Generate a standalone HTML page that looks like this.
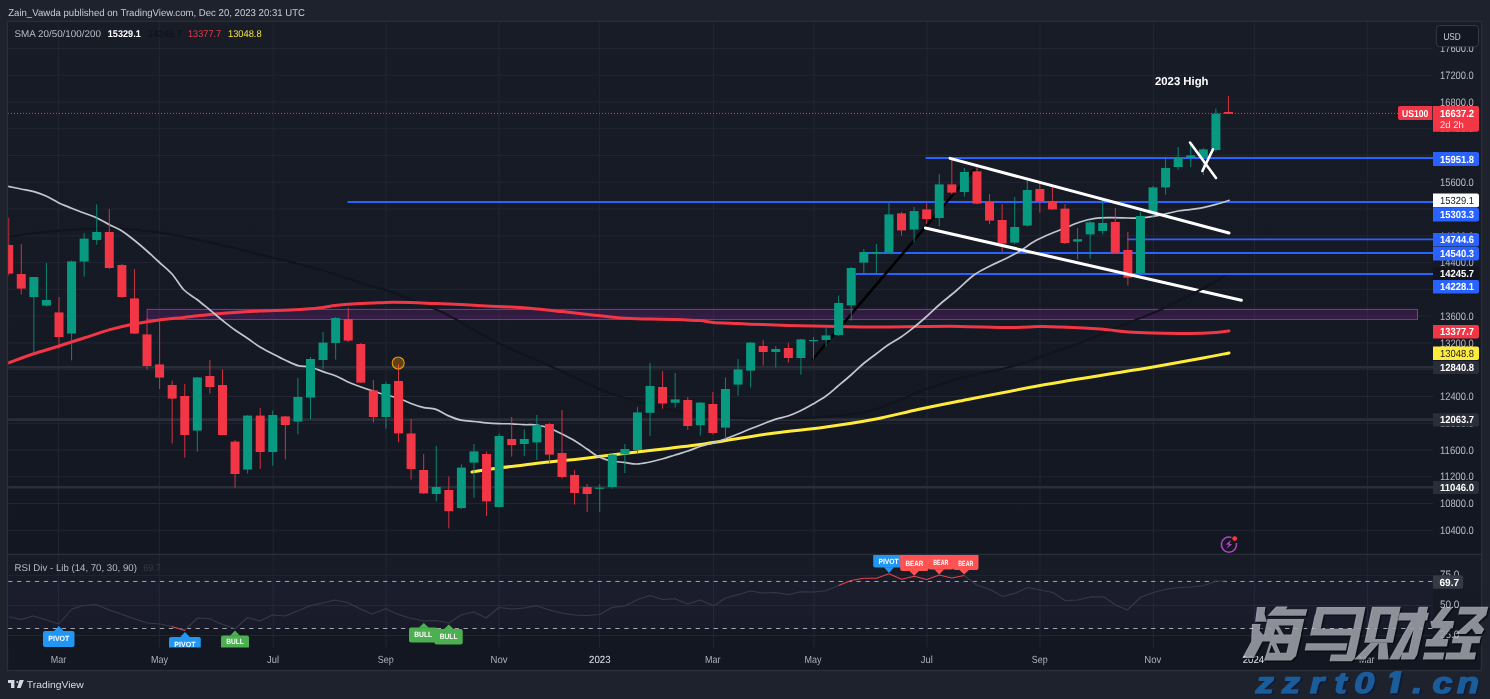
<!DOCTYPE html>
<html><head><meta charset="utf-8"><title>US100 chart</title>
<style>html,body{margin:0;padding:0;background:#1e222d;overflow:hidden}body{width:1490px;height:699px;font-family:"Liberation Sans",sans-serif}svg{will-change:transform;transform:translateZ(0)}svg text{white-space:pre;-webkit-font-smoothing:antialiased}</style></head>
<body>
<svg width="1490" height="699" viewBox="0 0 1490 699" style="display:block" font-family="'Liberation Sans', sans-serif" text-rendering="geometricPrecision">
<rect width="1490" height="699" fill="#1e222d"/>
<defs><linearGradient id="bg" x1="0" y1="0" x2="0" y2="1"><stop offset="0" stop-color="#181c27"/><stop offset="1" stop-color="#131722"/></linearGradient></defs>
<rect x="7.5" y="21.5" width="1474" height="649" fill="#131722" stroke="#2a2e39" stroke-width="1.4"/>
<rect x="8.2" y="22.2" width="1472.6" height="532" fill="url(#bg)"/>
<rect x="8.2" y="555" width="1472.6" height="92.5" fill="url(#bg)"/>
<defs><clipPath id="cp"><rect x="8.2" y="22.2" width="1424.8" height="532"/></clipPath><clipPath id="cr"><rect x="8.2" y="555" width="1424.8" height="92.5"/></clipPath></defs>
<line x1="58.4" y1="22" x2="58.4" y2="647.5" stroke="#222634" stroke-width="1"/>
<line x1="159.4" y1="22" x2="159.4" y2="647.5" stroke="#222634" stroke-width="1"/>
<line x1="273.2" y1="22" x2="273.2" y2="647.5" stroke="#222634" stroke-width="1"/>
<line x1="386.0" y1="22" x2="386.0" y2="647.5" stroke="#222634" stroke-width="1"/>
<line x1="499.0" y1="22" x2="499.0" y2="647.5" stroke="#222634" stroke-width="1"/>
<line x1="599.6" y1="22" x2="599.6" y2="647.5" stroke="#222634" stroke-width="1"/>
<line x1="713.6" y1="22" x2="713.6" y2="647.5" stroke="#222634" stroke-width="1"/>
<line x1="814.0" y1="22" x2="814.0" y2="647.5" stroke="#222634" stroke-width="1"/>
<line x1="927.0" y1="22" x2="927.0" y2="647.5" stroke="#222634" stroke-width="1"/>
<line x1="1040.0" y1="22" x2="1040.0" y2="647.5" stroke="#222634" stroke-width="1"/>
<line x1="1153.4" y1="22" x2="1153.4" y2="647.5" stroke="#222634" stroke-width="1"/>
<line x1="1254.4" y1="22" x2="1254.4" y2="647.5" stroke="#222634" stroke-width="1"/>
<line x1="1367.6" y1="22" x2="1367.6" y2="647.5" stroke="#222634" stroke-width="1"/>
<line x1="8" y1="48.5" x2="1433" y2="48.5" stroke="#222634" stroke-width="1"/>
<line x1="8" y1="75.2" x2="1433" y2="75.2" stroke="#222634" stroke-width="1"/>
<line x1="8" y1="102.0" x2="1433" y2="102.0" stroke="#222634" stroke-width="1"/>
<line x1="8" y1="128.8" x2="1433" y2="128.8" stroke="#222634" stroke-width="1"/>
<line x1="8" y1="155.5" x2="1433" y2="155.5" stroke="#222634" stroke-width="1"/>
<line x1="8" y1="182.3" x2="1433" y2="182.3" stroke="#222634" stroke-width="1"/>
<line x1="8" y1="209.1" x2="1433" y2="209.1" stroke="#222634" stroke-width="1"/>
<line x1="8" y1="235.8" x2="1433" y2="235.8" stroke="#222634" stroke-width="1"/>
<line x1="8" y1="262.6" x2="1433" y2="262.6" stroke="#222634" stroke-width="1"/>
<line x1="8" y1="289.4" x2="1433" y2="289.4" stroke="#222634" stroke-width="1"/>
<line x1="8" y1="316.1" x2="1433" y2="316.1" stroke="#222634" stroke-width="1"/>
<line x1="8" y1="342.9" x2="1433" y2="342.9" stroke="#222634" stroke-width="1"/>
<line x1="8" y1="369.7" x2="1433" y2="369.7" stroke="#222634" stroke-width="1"/>
<line x1="8" y1="396.5" x2="1433" y2="396.5" stroke="#222634" stroke-width="1"/>
<line x1="8" y1="423.2" x2="1433" y2="423.2" stroke="#222634" stroke-width="1"/>
<line x1="8" y1="450.0" x2="1433" y2="450.0" stroke="#222634" stroke-width="1"/>
<line x1="8" y1="476.8" x2="1433" y2="476.8" stroke="#222634" stroke-width="1"/>
<line x1="8" y1="503.5" x2="1433" y2="503.5" stroke="#222634" stroke-width="1"/>
<line x1="8" y1="530.3" x2="1433" y2="530.3" stroke="#222634" stroke-width="1"/>
<line x1="8" y1="575.6" x2="1433" y2="575.6" stroke="#222634" stroke-width="1"/>
<line x1="8" y1="605.5" x2="1433" y2="605.5" stroke="#222634" stroke-width="1"/>
<line x1="8" y1="635.5" x2="1433" y2="635.5" stroke="#222634" stroke-width="1"/>
<line x1="8" y1="554.3" x2="1481" y2="554.3" stroke="#2a2e39" stroke-width="1.2"/>
<g clip-path="url(#cp)">
<line x1="8" y1="367.3" x2="1433" y2="367.3" stroke="#2a2e39" stroke-width="2.6"/>
<line x1="8" y1="419.6" x2="1433" y2="419.6" stroke="#2a2e39" stroke-width="2.6"/>
<line x1="8" y1="487.3" x2="1433" y2="487.3" stroke="#2a2e39" stroke-width="2.6"/>
<rect x="147.2" y="309.4" width="1270.3" height="10" fill="rgba(156,39,176,0.2)" stroke="#9c27b0" stroke-width="1"/>
<path d="M8.0 237.0 C13.3 236.2 29.7 233.7 40.0 232.5 C50.3 231.3 58.3 230.7 70.0 230.0 C81.7 229.3 95.0 228.1 110.0 228.5 C125.0 228.9 142.5 230.0 160.0 232.5 C177.5 235.0 196.7 239.5 215.0 243.6 C233.3 247.7 252.5 252.7 270.0 257.0 C287.5 261.3 302.5 264.5 320.0 269.6 C337.5 274.7 364.0 284.1 375.0 287.5 C386.0 290.9 376.0 286.4 386.0 290.0 C396.0 293.6 423.3 304.1 435.0 309.0 C446.7 313.9 445.5 313.7 456.0 319.4 C466.5 325.1 482.3 335.2 498.0 343.0 C513.7 350.8 535.0 359.2 550.0 366.0 C565.0 372.8 579.7 380.1 588.0 384.0 C596.3 387.9 594.0 387.2 600.0 389.5 C606.0 391.8 615.7 395.0 624.0 397.6 C632.3 400.2 640.7 402.7 650.0 405.0 C659.3 407.3 670.0 409.7 680.0 411.5 C690.0 413.3 701.5 415.0 710.0 416.0 C718.5 417.0 719.3 417.3 731.0 417.7 C742.7 418.1 766.5 418.5 780.0 418.5 C793.5 418.5 802.0 418.2 812.0 417.7 C822.0 417.2 831.2 416.4 840.0 415.5 C848.8 414.6 857.5 413.6 865.0 412.0 C872.5 410.4 878.2 408.4 885.0 406.0 C891.8 403.6 900.5 399.9 906.0 397.6 C911.5 395.3 911.3 394.5 918.0 392.0 C924.7 389.5 939.0 385.1 946.0 382.8 C953.0 380.5 949.3 380.6 960.0 378.0 C970.7 375.4 996.7 370.5 1010.0 367.0 C1023.3 363.5 1028.3 361.0 1040.0 357.0 C1051.7 353.0 1065.3 348.7 1080.0 343.0 C1094.7 337.3 1114.7 328.5 1128.0 323.0 C1141.3 317.5 1148.0 315.5 1160.0 310.0 C1172.0 304.5 1190.3 295.0 1200.0 290.0 C1209.7 285.0 1213.3 282.8 1218.0 280.0 C1222.7 277.2 1226.3 274.2 1228.0 273.0" fill="none" stroke="#11141d" stroke-width="2" stroke-linejoin="round"/>
<line x1="8" y1="113.4" x2="1398" y2="113.4" stroke="#f23645" stroke-width="1" stroke-dasharray="1 2"/>
<line x1="925.6" y1="158.0" x2="1433" y2="158.0" stroke="#2962ff" stroke-width="1.9"/>
<line x1="347.5" y1="202.0" x2="1433" y2="202.0" stroke="#2962ff" stroke-width="1.9"/>
<line x1="1127.0" y1="239.4" x2="1433" y2="239.4" stroke="#2962ff" stroke-width="1.9"/>
<line x1="868.0" y1="253.0" x2="1433" y2="253.0" stroke="#2962ff" stroke-width="1.9"/>
<line x1="856.0" y1="274.0" x2="1433" y2="274.0" stroke="#2962ff" stroke-width="1.9"/>
<path d="M472.0 472.0 C476.5 471.3 490.3 469.2 499.0 468.0 C507.7 466.8 515.7 466.0 524.0 465.0 C532.3 464.0 540.5 462.9 549.0 462.0 C557.5 461.1 566.7 460.3 575.0 459.4 C583.3 458.5 590.8 457.6 599.0 456.6 C607.2 455.6 615.5 454.6 624.0 453.6 C632.5 452.6 641.5 451.4 650.0 450.4 C658.5 449.4 666.7 448.6 675.0 447.6 C683.3 446.6 691.5 445.7 700.0 444.5 C708.5 443.3 713.5 442.4 726.0 440.5 C738.5 438.6 758.3 435.2 775.0 433.0 C791.7 430.8 809.2 429.3 826.0 427.0 C842.8 424.7 860.7 421.9 876.0 419.0 C891.3 416.1 904.0 412.5 918.0 409.5 C932.0 406.5 939.7 405.0 960.0 401.0 C980.3 397.0 1012.0 390.6 1040.0 385.6 C1068.0 380.6 1109.2 374.1 1128.0 371.0 C1146.8 367.9 1140.5 369.2 1153.0 367.0 C1165.5 364.8 1190.3 360.3 1203.0 358.0 C1215.7 355.7 1224.7 353.8 1229.0 353.0" fill="none" stroke="#ffeb3b" stroke-width="3" stroke-linejoin="round" stroke-linecap="round"/>
<path d="M8.0 363.0 C12.2 361.5 24.5 356.8 33.0 354.0 C41.5 351.2 50.5 348.7 59.0 346.0 C67.5 343.3 75.5 340.7 84.0 338.0 C92.5 335.3 101.7 331.9 110.0 329.6 C118.3 327.3 125.8 325.6 134.0 324.0 C142.2 322.4 150.7 321.1 159.0 320.0 C167.3 318.9 175.5 318.3 184.0 317.4 C192.5 316.5 201.5 315.2 210.0 314.4 C218.5 313.6 226.7 313.0 235.0 312.4 C243.3 311.8 250.8 311.4 260.0 311.0 C269.2 310.6 281.7 310.4 290.0 310.0 C298.3 309.6 304.5 309.2 310.0 308.8 C315.5 308.4 318.8 307.9 323.0 307.4 C327.2 306.9 330.8 306.1 335.0 305.6 C339.2 305.1 343.7 304.6 348.0 304.2 C352.3 303.8 356.8 303.6 361.0 303.4 C365.2 303.2 368.8 303.2 373.0 303.0 C377.2 302.8 379.7 302.5 386.0 302.4 C392.3 302.3 402.7 302.4 411.0 302.6 C419.3 302.8 427.7 303.3 436.0 303.6 C444.3 303.9 452.7 304.2 461.0 304.6 C469.3 305.0 477.7 305.6 486.0 306.0 C494.3 306.4 502.5 306.5 511.0 307.0 C519.5 307.5 528.5 308.2 537.0 309.0 C545.5 309.8 553.5 310.7 562.0 311.6 C570.5 312.5 578.3 313.3 588.0 314.4 C597.7 315.5 609.7 317.2 620.0 318.0 C630.3 318.8 640.8 318.8 650.0 319.0 C659.2 319.2 666.7 319.1 675.0 319.4 C683.3 319.7 693.7 320.1 700.0 320.6 C706.3 321.1 706.7 321.9 713.0 322.4 C719.3 322.9 729.7 323.2 738.0 323.6 C746.3 324.0 754.7 324.3 763.0 324.6 C771.3 324.9 779.7 325.2 788.0 325.4 C796.3 325.6 804.7 325.8 813.0 326.0 C821.3 326.2 829.7 326.4 838.0 326.6 C846.3 326.8 854.7 326.9 863.0 327.0 C871.3 327.1 878.8 327.1 888.0 327.0 C897.2 326.9 906.0 326.7 918.0 326.6 C930.0 326.5 944.7 326.2 960.0 326.4 C975.3 326.6 996.7 327.6 1010.0 327.6 C1023.3 327.6 1031.7 326.7 1040.0 326.6 C1048.3 326.5 1050.0 326.6 1060.0 327.0 C1070.0 327.4 1088.7 328.2 1100.0 329.0 C1111.3 329.8 1119.2 331.3 1128.0 332.0 C1136.8 332.7 1142.7 332.8 1153.0 333.0 C1163.3 333.2 1179.5 333.5 1190.0 333.4 C1200.5 333.3 1209.5 332.8 1216.0 332.4 C1222.5 332.0 1226.8 331.2 1229.0 331.0" fill="none" stroke="#f23645" stroke-width="3" stroke-linejoin="round" stroke-linecap="round"/>
<path d="M8.0 186.4 C10.2 186.8 16.7 188.1 21.0 189.0 C25.3 189.9 29.8 190.4 34.0 191.6 C38.2 192.8 42.0 194.2 46.0 196.0 C50.0 197.8 53.8 200.4 58.0 202.4 C62.2 204.4 66.7 206.2 71.0 208.0 C75.3 209.8 79.7 211.3 84.0 213.0 C88.3 214.7 92.7 216.0 97.0 218.0 C101.3 220.0 105.8 222.8 110.0 225.0 C114.2 227.2 118.0 228.5 122.0 231.0 C126.0 233.5 129.8 236.7 134.0 240.0 C138.2 243.3 142.8 247.3 147.0 251.0 C151.2 254.7 154.8 258.2 159.0 262.0 C163.2 265.8 167.8 269.3 172.0 274.0 C176.2 278.7 179.8 285.8 184.0 290.0 C188.2 294.2 192.7 296.2 197.0 299.5 C201.3 302.8 205.8 306.6 210.0 310.0 C214.2 313.4 217.8 316.7 222.0 320.0 C226.2 323.3 230.8 327.0 235.0 330.0 C239.2 333.0 242.8 335.2 247.0 338.0 C251.2 340.8 255.7 344.3 260.0 347.0 C264.3 349.7 268.8 351.8 273.0 354.0 C277.2 356.2 280.8 358.1 285.0 360.0 C289.2 361.9 293.8 364.4 298.0 365.6 C302.2 366.8 305.8 366.0 310.0 367.0 C314.2 368.0 318.7 370.1 323.0 371.6 C327.3 373.1 331.8 374.3 336.0 376.0 C340.2 377.7 343.8 380.2 348.0 382.0 C352.2 383.8 356.8 385.5 361.0 387.0 C365.2 388.5 368.8 389.7 373.0 391.0 C377.2 392.3 381.8 393.8 386.0 395.0 C390.2 396.2 393.8 396.6 398.0 398.0 C402.2 399.4 406.8 401.9 411.0 403.5 C415.2 405.1 418.8 406.4 423.0 407.4 C427.2 408.4 431.8 408.0 436.0 409.4 C440.2 410.8 443.8 413.8 448.0 415.6 C452.2 417.4 456.7 419.2 461.0 420.2 C465.3 421.2 469.8 421.1 474.0 421.5 C478.2 421.9 481.8 422.4 486.0 422.8 C490.2 423.2 494.7 423.5 499.0 423.7 C503.3 423.9 507.8 423.6 512.0 423.8 C516.2 424.0 519.8 424.5 524.0 424.7 C528.2 424.9 532.8 424.4 537.0 425.0 C541.2 425.6 544.8 426.5 549.0 428.0 C553.2 429.5 557.7 431.8 562.0 434.0 C566.3 436.2 570.8 438.5 575.0 441.0 C579.2 443.5 583.0 446.3 587.0 449.0 C591.0 451.7 594.8 455.0 599.0 457.0 C603.2 459.0 607.8 460.1 612.0 461.0 C616.2 461.9 619.8 461.9 624.0 462.4 C628.2 462.9 632.7 464.1 637.0 464.0 C641.3 463.9 645.8 462.8 650.0 462.0 C654.2 461.2 657.8 460.2 662.0 459.0 C666.2 457.8 670.7 456.3 675.0 455.0 C679.3 453.7 683.8 452.4 688.0 451.0 C692.2 449.6 695.8 447.8 700.0 446.5 C704.2 445.2 708.8 444.2 713.0 443.0 C717.2 441.8 720.8 440.5 725.0 439.0 C729.2 437.5 733.8 435.7 738.0 434.0 C742.2 432.3 745.8 430.7 750.0 429.0 C754.2 427.3 758.8 425.6 763.0 424.0 C767.2 422.4 770.8 420.7 775.0 419.4 C779.2 418.1 783.8 417.4 788.0 416.0 C792.2 414.6 795.8 413.0 800.0 411.0 C804.2 409.0 808.7 406.5 813.0 404.0 C817.3 401.5 821.8 399.0 826.0 396.0 C830.2 393.0 833.8 389.5 838.0 386.0 C842.2 382.5 846.8 378.7 851.0 375.0 C855.2 371.3 858.8 367.5 863.0 364.0 C867.2 360.5 871.8 357.2 876.0 354.0 C880.2 350.8 883.8 347.8 888.0 345.0 C892.2 342.2 896.8 339.8 901.0 337.0 C905.2 334.2 908.8 331.3 913.0 328.0 C917.2 324.7 921.7 320.8 926.0 317.0 C930.3 313.2 933.8 309.5 939.0 305.0 C944.2 300.5 951.2 295.0 957.0 290.0 C962.8 285.0 968.5 279.0 974.0 275.0 C979.5 271.0 984.8 268.7 990.0 266.0 C995.2 263.3 1000.0 261.5 1005.0 259.0 C1010.0 256.5 1015.0 254.0 1020.0 251.0 C1025.0 248.0 1030.0 243.8 1035.0 241.0 C1040.0 238.2 1045.0 236.2 1050.0 234.0 C1055.0 231.8 1060.0 230.0 1065.0 228.0 C1070.0 226.0 1075.0 223.6 1080.0 222.0 C1085.0 220.4 1090.0 219.1 1095.0 218.4 C1100.0 217.7 1104.5 217.7 1110.0 217.6 C1115.5 217.5 1123.0 217.9 1128.0 218.0 C1133.0 218.1 1135.8 218.3 1140.0 218.0 C1144.2 217.7 1148.8 217.1 1153.0 216.4 C1157.2 215.7 1160.8 214.9 1165.0 214.0 C1169.2 213.1 1173.8 211.7 1178.0 211.0 C1182.2 210.3 1185.8 210.2 1190.0 209.6 C1194.2 209.0 1198.7 208.5 1203.0 207.6 C1207.3 206.7 1211.7 205.6 1216.0 204.4 C1220.3 203.2 1226.8 201.1 1229.0 200.4" fill="none" stroke="#c3c5cc" stroke-width="1.7" stroke-linejoin="round" stroke-linecap="round"/>
<line x1="813" y1="359" x2="974" y2="170" stroke="#000" stroke-width="2.6" stroke-linecap="round"/>
<line x1="8.70" y1="217.6" x2="8.70" y2="275.6" stroke="#f23645" stroke-width="1" stroke-opacity="0.85"/>
<rect x="4.20" y="245.0" width="9" height="28.6" fill="#f23645"/>
<line x1="21.27" y1="244.0" x2="21.27" y2="294.4" stroke="#f23645" stroke-width="1" stroke-opacity="0.85"/>
<rect x="16.77" y="274.0" width="9" height="14.6" fill="#f23645"/>
<line x1="33.85" y1="277.0" x2="33.85" y2="354.0" stroke="#089981" stroke-width="1" stroke-opacity="0.85"/>
<rect x="29.35" y="277.0" width="9" height="20.0" fill="#089981"/>
<line x1="46.42" y1="263.0" x2="46.42" y2="306.5" stroke="#089981" stroke-width="1" stroke-opacity="0.85"/>
<rect x="41.92" y="300.0" width="9" height="5.6" fill="#089981"/>
<line x1="59.00" y1="297.0" x2="59.00" y2="348.6" stroke="#f23645" stroke-width="1" stroke-opacity="0.85"/>
<rect x="54.50" y="312.4" width="9" height="24.6" fill="#f23645"/>
<line x1="71.58" y1="260.5" x2="71.58" y2="360.4" stroke="#089981" stroke-width="1" stroke-opacity="0.85"/>
<rect x="67.08" y="261.4" width="9" height="72.2" fill="#089981"/>
<line x1="84.15" y1="233.0" x2="84.15" y2="276.6" stroke="#089981" stroke-width="1" stroke-opacity="0.85"/>
<rect x="79.65" y="238.6" width="9" height="23.0" fill="#089981"/>
<line x1="96.72" y1="204.4" x2="96.72" y2="244.6" stroke="#089981" stroke-width="1" stroke-opacity="0.85"/>
<rect x="92.22" y="232.0" width="9" height="8.0" fill="#089981"/>
<line x1="109.30" y1="209.0" x2="109.30" y2="269.0" stroke="#f23645" stroke-width="1" stroke-opacity="0.85"/>
<rect x="104.80" y="232.0" width="9" height="36.0" fill="#f23645"/>
<line x1="121.88" y1="264.0" x2="121.88" y2="298.0" stroke="#f23645" stroke-width="1" stroke-opacity="0.85"/>
<rect x="117.38" y="265.0" width="9" height="32.0" fill="#f23645"/>
<line x1="134.45" y1="269.0" x2="134.45" y2="334.0" stroke="#f23645" stroke-width="1" stroke-opacity="0.85"/>
<rect x="129.95" y="298.4" width="9" height="35.2" fill="#f23645"/>
<line x1="147.02" y1="318.0" x2="147.02" y2="369.6" stroke="#f23645" stroke-width="1" stroke-opacity="0.85"/>
<rect x="142.52" y="334.4" width="9" height="31.6" fill="#f23645"/>
<line x1="159.60" y1="319.4" x2="159.60" y2="389.0" stroke="#f23645" stroke-width="1" stroke-opacity="0.85"/>
<rect x="155.10" y="364.4" width="9" height="13.2" fill="#f23645"/>
<line x1="172.17" y1="380.6" x2="172.17" y2="443.6" stroke="#f23645" stroke-width="1" stroke-opacity="0.85"/>
<rect x="167.67" y="385.0" width="9" height="13.6" fill="#f23645"/>
<line x1="184.75" y1="384.0" x2="184.75" y2="457.6" stroke="#f23645" stroke-width="1" stroke-opacity="0.85"/>
<rect x="180.25" y="396.0" width="9" height="39.0" fill="#f23645"/>
<line x1="197.32" y1="377.0" x2="197.32" y2="451.6" stroke="#089981" stroke-width="1" stroke-opacity="0.85"/>
<rect x="192.82" y="377.4" width="9" height="53.2" fill="#089981"/>
<line x1="209.90" y1="360.0" x2="209.90" y2="393.6" stroke="#f23645" stroke-width="1" stroke-opacity="0.85"/>
<rect x="205.40" y="376.0" width="9" height="11.0" fill="#f23645"/>
<line x1="222.47" y1="369.4" x2="222.47" y2="435.5" stroke="#f23645" stroke-width="1" stroke-opacity="0.85"/>
<rect x="217.97" y="385.0" width="9" height="50.0" fill="#f23645"/>
<line x1="235.05" y1="440.0" x2="235.05" y2="487.6" stroke="#f23645" stroke-width="1" stroke-opacity="0.85"/>
<rect x="230.55" y="441.6" width="9" height="32.4" fill="#f23645"/>
<line x1="247.62" y1="415.0" x2="247.62" y2="473.6" stroke="#089981" stroke-width="1" stroke-opacity="0.85"/>
<rect x="243.12" y="415.6" width="9" height="54.0" fill="#089981"/>
<line x1="260.20" y1="408.0" x2="260.20" y2="469.0" stroke="#f23645" stroke-width="1" stroke-opacity="0.85"/>
<rect x="255.70" y="415.6" width="9" height="36.4" fill="#f23645"/>
<line x1="272.77" y1="410.6" x2="272.77" y2="465.6" stroke="#089981" stroke-width="1" stroke-opacity="0.85"/>
<rect x="268.27" y="415.0" width="9" height="37.0" fill="#089981"/>
<line x1="285.35" y1="416.0" x2="285.35" y2="459.4" stroke="#f23645" stroke-width="1" stroke-opacity="0.85"/>
<rect x="280.85" y="416.4" width="9" height="8.6" fill="#f23645"/>
<line x1="297.92" y1="378.0" x2="297.92" y2="434.0" stroke="#089981" stroke-width="1" stroke-opacity="0.85"/>
<rect x="293.42" y="397.0" width="9" height="24.6" fill="#089981"/>
<line x1="310.50" y1="357.0" x2="310.50" y2="419.3" stroke="#089981" stroke-width="1" stroke-opacity="0.85"/>
<rect x="306.00" y="359.0" width="9" height="38.6" fill="#089981"/>
<line x1="323.07" y1="332.0" x2="323.07" y2="369.0" stroke="#089981" stroke-width="1" stroke-opacity="0.85"/>
<rect x="318.57" y="342.6" width="9" height="17.4" fill="#089981"/>
<line x1="335.65" y1="317.0" x2="335.65" y2="359.6" stroke="#089981" stroke-width="1" stroke-opacity="0.85"/>
<rect x="331.15" y="318.0" width="9" height="25.0" fill="#089981"/>
<line x1="348.22" y1="307.6" x2="348.22" y2="342.0" stroke="#f23645" stroke-width="1" stroke-opacity="0.85"/>
<rect x="343.72" y="319.0" width="9" height="21.6" fill="#f23645"/>
<line x1="360.80" y1="343.0" x2="360.80" y2="383.0" stroke="#f23645" stroke-width="1" stroke-opacity="0.85"/>
<rect x="356.30" y="344.0" width="9" height="38.6" fill="#f23645"/>
<line x1="373.37" y1="380.0" x2="373.37" y2="422.6" stroke="#f23645" stroke-width="1" stroke-opacity="0.85"/>
<rect x="368.87" y="390.4" width="9" height="26.6" fill="#f23645"/>
<line x1="385.95" y1="382.0" x2="385.95" y2="428.6" stroke="#089981" stroke-width="1" stroke-opacity="0.85"/>
<rect x="381.45" y="384.0" width="9" height="33.0" fill="#089981"/>
<line x1="398.52" y1="364.0" x2="398.52" y2="442.4" stroke="#f23645" stroke-width="1" stroke-opacity="0.85"/>
<rect x="394.02" y="381.0" width="9" height="52.4" fill="#f23645"/>
<line x1="411.10" y1="419.0" x2="411.10" y2="479.6" stroke="#f23645" stroke-width="1" stroke-opacity="0.85"/>
<rect x="406.60" y="433.5" width="9" height="35.5" fill="#f23645"/>
<line x1="423.67" y1="454.0" x2="423.67" y2="494.0" stroke="#f23645" stroke-width="1" stroke-opacity="0.85"/>
<rect x="419.17" y="470.0" width="9" height="23.4" fill="#f23645"/>
<line x1="436.25" y1="446.0" x2="436.25" y2="501.5" stroke="#089981" stroke-width="1" stroke-opacity="0.85"/>
<rect x="431.75" y="487.0" width="9" height="7.0" fill="#089981"/>
<line x1="448.82" y1="476.4" x2="448.82" y2="528.4" stroke="#f23645" stroke-width="1" stroke-opacity="0.85"/>
<rect x="444.32" y="490.0" width="9" height="21.2" fill="#f23645"/>
<line x1="461.40" y1="464.4" x2="461.40" y2="509.0" stroke="#089981" stroke-width="1" stroke-opacity="0.85"/>
<rect x="456.90" y="467.6" width="9" height="40.4" fill="#089981"/>
<line x1="473.97" y1="444.0" x2="473.97" y2="497.6" stroke="#089981" stroke-width="1" stroke-opacity="0.85"/>
<rect x="469.47" y="451.4" width="9" height="11.2" fill="#089981"/>
<line x1="486.55" y1="451.4" x2="486.55" y2="516.0" stroke="#f23645" stroke-width="1" stroke-opacity="0.85"/>
<rect x="482.05" y="454.0" width="9" height="47.4" fill="#f23645"/>
<line x1="499.12" y1="433.6" x2="499.12" y2="507.5" stroke="#089981" stroke-width="1" stroke-opacity="0.85"/>
<rect x="494.62" y="436.0" width="9" height="71.0" fill="#089981"/>
<line x1="511.70" y1="417.0" x2="511.70" y2="456.6" stroke="#f23645" stroke-width="1" stroke-opacity="0.85"/>
<rect x="507.20" y="439.0" width="9" height="6.0" fill="#f23645"/>
<line x1="524.27" y1="429.4" x2="524.27" y2="456.0" stroke="#089981" stroke-width="1" stroke-opacity="0.85"/>
<rect x="519.77" y="439.0" width="9" height="5.0" fill="#089981"/>
<line x1="536.85" y1="415.0" x2="536.85" y2="460.0" stroke="#089981" stroke-width="1" stroke-opacity="0.85"/>
<rect x="532.35" y="425.0" width="9" height="17.4" fill="#089981"/>
<line x1="549.43" y1="423.0" x2="549.43" y2="463.0" stroke="#f23645" stroke-width="1" stroke-opacity="0.85"/>
<rect x="544.93" y="424.0" width="9" height="30.6" fill="#f23645"/>
<line x1="562.00" y1="410.0" x2="562.00" y2="478.6" stroke="#f23645" stroke-width="1" stroke-opacity="0.85"/>
<rect x="557.50" y="453.0" width="9" height="24.0" fill="#f23645"/>
<line x1="574.58" y1="470.0" x2="574.58" y2="504.6" stroke="#f23645" stroke-width="1" stroke-opacity="0.85"/>
<rect x="570.08" y="475.0" width="9" height="18.0" fill="#f23645"/>
<line x1="587.15" y1="484.0" x2="587.15" y2="512.0" stroke="#f23645" stroke-width="1" stroke-opacity="0.85"/>
<rect x="582.65" y="487.0" width="9" height="7.0" fill="#f23645"/>
<line x1="599.73" y1="484.0" x2="599.73" y2="512.0" stroke="#089981" stroke-width="1" stroke-opacity="0.85"/>
<rect x="595.23" y="487.6" width="9" height="1.2" fill="#089981"/>
<line x1="612.30" y1="454.0" x2="612.30" y2="488.6" stroke="#089981" stroke-width="1" stroke-opacity="0.85"/>
<rect x="607.80" y="454.6" width="9" height="32.4" fill="#089981"/>
<line x1="624.88" y1="444.0" x2="624.88" y2="473.0" stroke="#089981" stroke-width="1" stroke-opacity="0.85"/>
<rect x="620.38" y="449.0" width="9" height="5.4" fill="#089981"/>
<line x1="637.45" y1="407.0" x2="637.45" y2="453.0" stroke="#089981" stroke-width="1" stroke-opacity="0.85"/>
<rect x="632.95" y="412.4" width="9" height="37.6" fill="#089981"/>
<line x1="650.02" y1="363.0" x2="650.02" y2="436.0" stroke="#089981" stroke-width="1" stroke-opacity="0.85"/>
<rect x="645.52" y="386.0" width="9" height="26.8" fill="#089981"/>
<line x1="662.60" y1="371.0" x2="662.60" y2="408.8" stroke="#f23645" stroke-width="1" stroke-opacity="0.85"/>
<rect x="658.10" y="387.0" width="9" height="16.5" fill="#f23645"/>
<line x1="675.17" y1="373.0" x2="675.17" y2="407.5" stroke="#089981" stroke-width="1" stroke-opacity="0.85"/>
<rect x="670.67" y="399.4" width="9" height="3.3" fill="#089981"/>
<line x1="687.75" y1="397.0" x2="687.75" y2="429.8" stroke="#f23645" stroke-width="1" stroke-opacity="0.85"/>
<rect x="683.25" y="400.0" width="9" height="26.0" fill="#f23645"/>
<line x1="700.33" y1="402.0" x2="700.33" y2="435.6" stroke="#089981" stroke-width="1" stroke-opacity="0.85"/>
<rect x="695.83" y="402.6" width="9" height="22.6" fill="#089981"/>
<line x1="712.90" y1="392.0" x2="712.90" y2="434.6" stroke="#f23645" stroke-width="1" stroke-opacity="0.85"/>
<rect x="708.40" y="404.0" width="9" height="29.0" fill="#f23645"/>
<line x1="725.48" y1="377.4" x2="725.48" y2="439.0" stroke="#089981" stroke-width="1" stroke-opacity="0.85"/>
<rect x="720.98" y="389.0" width="9" height="38.6" fill="#089981"/>
<line x1="738.05" y1="359.0" x2="738.05" y2="395.6" stroke="#089981" stroke-width="1" stroke-opacity="0.85"/>
<rect x="733.55" y="369.4" width="9" height="15.2" fill="#089981"/>
<line x1="750.62" y1="342.0" x2="750.62" y2="387.6" stroke="#089981" stroke-width="1" stroke-opacity="0.85"/>
<rect x="746.12" y="342.6" width="9" height="28.0" fill="#089981"/>
<line x1="763.20" y1="340.0" x2="763.20" y2="365.6" stroke="#f23645" stroke-width="1" stroke-opacity="0.85"/>
<rect x="758.70" y="346.0" width="9" height="6.0" fill="#f23645"/>
<line x1="775.77" y1="346.0" x2="775.77" y2="367.4" stroke="#089981" stroke-width="1" stroke-opacity="0.85"/>
<rect x="771.27" y="349.0" width="9" height="3.0" fill="#089981"/>
<line x1="788.35" y1="342.6" x2="788.35" y2="362.6" stroke="#f23645" stroke-width="1" stroke-opacity="0.85"/>
<rect x="783.85" y="348.0" width="9" height="10.0" fill="#f23645"/>
<line x1="800.92" y1="339.0" x2="800.92" y2="374.6" stroke="#089981" stroke-width="1" stroke-opacity="0.85"/>
<rect x="796.42" y="339.4" width="9" height="18.6" fill="#089981"/>
<line x1="813.50" y1="337.0" x2="813.50" y2="359.4" stroke="#089981" stroke-width="1" stroke-opacity="0.85"/>
<rect x="809.00" y="340.0" width="9" height="1.2" fill="#089981"/>
<line x1="826.08" y1="327.4" x2="826.08" y2="346.6" stroke="#089981" stroke-width="1" stroke-opacity="0.85"/>
<rect x="821.58" y="335.4" width="9" height="4.6" fill="#089981"/>
<line x1="838.65" y1="295.5" x2="838.65" y2="336.0" stroke="#089981" stroke-width="1" stroke-opacity="0.85"/>
<rect x="834.15" y="303.0" width="9" height="32.0" fill="#089981"/>
<line x1="851.23" y1="267.0" x2="851.23" y2="320.6" stroke="#089981" stroke-width="1" stroke-opacity="0.85"/>
<rect x="846.73" y="268.0" width="9" height="37.4" fill="#089981"/>
<line x1="863.80" y1="249.0" x2="863.80" y2="273.6" stroke="#089981" stroke-width="1" stroke-opacity="0.85"/>
<rect x="859.30" y="252.0" width="9" height="10.6" fill="#089981"/>
<line x1="876.38" y1="244.0" x2="876.38" y2="273.6" stroke="#089981" stroke-width="1" stroke-opacity="0.85"/>
<rect x="871.88" y="252.0" width="9" height="1.2" fill="#089981"/>
<line x1="888.95" y1="202.6" x2="888.95" y2="253.0" stroke="#089981" stroke-width="1" stroke-opacity="0.85"/>
<rect x="884.45" y="214.4" width="9" height="38.2" fill="#089981"/>
<line x1="901.52" y1="212.0" x2="901.52" y2="235.4" stroke="#f23645" stroke-width="1" stroke-opacity="0.85"/>
<rect x="897.02" y="213.4" width="9" height="17.0" fill="#f23645"/>
<line x1="914.10" y1="207.0" x2="914.10" y2="242.4" stroke="#089981" stroke-width="1" stroke-opacity="0.85"/>
<rect x="909.60" y="211.0" width="9" height="18.6" fill="#089981"/>
<line x1="926.67" y1="203.0" x2="926.67" y2="224.0" stroke="#f23645" stroke-width="1" stroke-opacity="0.85"/>
<rect x="922.17" y="209.4" width="9" height="9.6" fill="#f23645"/>
<line x1="939.25" y1="174.0" x2="939.25" y2="226.4" stroke="#089981" stroke-width="1" stroke-opacity="0.85"/>
<rect x="934.75" y="184.4" width="9" height="33.6" fill="#089981"/>
<line x1="951.83" y1="159.0" x2="951.83" y2="194.4" stroke="#f23645" stroke-width="1" stroke-opacity="0.85"/>
<rect x="947.33" y="184.4" width="9" height="8.2" fill="#f23645"/>
<line x1="964.40" y1="168.0" x2="964.40" y2="196.6" stroke="#089981" stroke-width="1" stroke-opacity="0.85"/>
<rect x="959.90" y="172.0" width="9" height="20.0" fill="#089981"/>
<line x1="976.98" y1="167.0" x2="976.98" y2="204.4" stroke="#f23645" stroke-width="1" stroke-opacity="0.85"/>
<rect x="972.48" y="171.4" width="9" height="32.2" fill="#f23645"/>
<line x1="989.55" y1="194.0" x2="989.55" y2="224.0" stroke="#f23645" stroke-width="1" stroke-opacity="0.85"/>
<rect x="985.05" y="202.0" width="9" height="18.6" fill="#f23645"/>
<line x1="1002.12" y1="204.0" x2="1002.12" y2="252.0" stroke="#f23645" stroke-width="1" stroke-opacity="0.85"/>
<rect x="997.62" y="220.0" width="9" height="23.6" fill="#f23645"/>
<line x1="1014.70" y1="197.0" x2="1014.70" y2="244.0" stroke="#089981" stroke-width="1" stroke-opacity="0.85"/>
<rect x="1010.20" y="227.0" width="9" height="15.6" fill="#089981"/>
<line x1="1027.27" y1="180.0" x2="1027.27" y2="226.6" stroke="#089981" stroke-width="1" stroke-opacity="0.85"/>
<rect x="1022.77" y="190.0" width="9" height="35.6" fill="#089981"/>
<line x1="1039.85" y1="184.0" x2="1039.85" y2="212.6" stroke="#f23645" stroke-width="1" stroke-opacity="0.85"/>
<rect x="1035.35" y="189.0" width="9" height="12.6" fill="#f23645"/>
<line x1="1052.42" y1="187.0" x2="1052.42" y2="210.0" stroke="#f23645" stroke-width="1" stroke-opacity="0.85"/>
<rect x="1047.92" y="201.0" width="9" height="8.4" fill="#f23645"/>
<line x1="1065.00" y1="204.0" x2="1065.00" y2="244.0" stroke="#f23645" stroke-width="1" stroke-opacity="0.85"/>
<rect x="1060.50" y="208.6" width="9" height="34.4" fill="#f23645"/>
<line x1="1077.58" y1="228.0" x2="1077.58" y2="259.5" stroke="#089981" stroke-width="1" stroke-opacity="0.85"/>
<rect x="1073.08" y="239.2" width="9" height="2.4" fill="#089981"/>
<line x1="1090.15" y1="221.0" x2="1090.15" y2="258.6" stroke="#089981" stroke-width="1" stroke-opacity="0.85"/>
<rect x="1085.65" y="222.4" width="9" height="12.0" fill="#089981"/>
<line x1="1102.72" y1="199.5" x2="1102.72" y2="234.4" stroke="#089981" stroke-width="1" stroke-opacity="0.85"/>
<rect x="1098.22" y="223.0" width="9" height="8.0" fill="#089981"/>
<line x1="1115.30" y1="208.0" x2="1115.30" y2="253.2" stroke="#f23645" stroke-width="1" stroke-opacity="0.85"/>
<rect x="1110.80" y="222.0" width="9" height="30.8" fill="#f23645"/>
<line x1="1127.88" y1="232.0" x2="1127.88" y2="285.6" stroke="#f23645" stroke-width="1" stroke-opacity="0.85"/>
<rect x="1123.38" y="250.0" width="9" height="27.6" fill="#f23645"/>
<line x1="1140.45" y1="212.0" x2="1140.45" y2="274.0" stroke="#089981" stroke-width="1" stroke-opacity="0.85"/>
<rect x="1135.95" y="216.0" width="9" height="57.0" fill="#089981"/>
<line x1="1153.03" y1="186.0" x2="1153.03" y2="217.4" stroke="#089981" stroke-width="1" stroke-opacity="0.85"/>
<rect x="1148.53" y="187.4" width="9" height="26.2" fill="#089981"/>
<line x1="1165.60" y1="157.0" x2="1165.60" y2="194.8" stroke="#089981" stroke-width="1" stroke-opacity="0.85"/>
<rect x="1161.10" y="168.0" width="9" height="19.4" fill="#089981"/>
<line x1="1178.17" y1="147.0" x2="1178.17" y2="169.6" stroke="#089981" stroke-width="1" stroke-opacity="0.85"/>
<rect x="1173.67" y="157.4" width="9" height="9.6" fill="#089981"/>
<line x1="1190.75" y1="144.0" x2="1190.75" y2="167.0" stroke="#089981" stroke-width="1" stroke-opacity="0.85"/>
<rect x="1186.25" y="155.4" width="9" height="2.6" fill="#089981"/>
<line x1="1203.33" y1="148.0" x2="1203.33" y2="175.0" stroke="#089981" stroke-width="1" stroke-opacity="0.85"/>
<rect x="1198.83" y="149.4" width="9" height="7.6" fill="#089981"/>
<line x1="1215.90" y1="108.6" x2="1215.90" y2="151.4" stroke="#089981" stroke-width="1" stroke-opacity="0.85"/>
<rect x="1211.40" y="113.6" width="9" height="36.4" fill="#089981"/>
<line x1="1228.47" y1="96.0" x2="1228.47" y2="113.8" stroke="#f23645" stroke-width="1" stroke-opacity="0.85"/>
<rect x="1223.97" y="112.0" width="9" height="1.8" fill="#f23645"/>
<line x1="950" y1="158.4" x2="1229" y2="233" stroke="#fff" stroke-width="3" stroke-linecap="round"/>
<line x1="925.4" y1="228" x2="1241.4" y2="300.2" stroke="#fff" stroke-width="3" stroke-linecap="round"/>
<line x1="1190" y1="142.6" x2="1216" y2="178" stroke="#fff" stroke-width="2.6" stroke-linecap="round"/>
<line x1="1202.4" y1="171" x2="1213" y2="149.4" stroke="#fff" stroke-width="2.6" stroke-linecap="round"/>
<clipPath id="c50"><rect x="1186" y="280" width="24" height="20"/></clipPath>
<path d="M8.0 237.0 C13.3 236.2 29.7 233.7 40.0 232.5 C50.3 231.3 58.3 230.7 70.0 230.0 C81.7 229.3 95.0 228.1 110.0 228.5 C125.0 228.9 142.5 230.0 160.0 232.5 C177.5 235.0 196.7 239.5 215.0 243.6 C233.3 247.7 252.5 252.7 270.0 257.0 C287.5 261.3 302.5 264.5 320.0 269.6 C337.5 274.7 364.0 284.1 375.0 287.5 C386.0 290.9 376.0 286.4 386.0 290.0 C396.0 293.6 423.3 304.1 435.0 309.0 C446.7 313.9 445.5 313.7 456.0 319.4 C466.5 325.1 482.3 335.2 498.0 343.0 C513.7 350.8 535.0 359.2 550.0 366.0 C565.0 372.8 579.7 380.1 588.0 384.0 C596.3 387.9 594.0 387.2 600.0 389.5 C606.0 391.8 615.7 395.0 624.0 397.6 C632.3 400.2 640.7 402.7 650.0 405.0 C659.3 407.3 670.0 409.7 680.0 411.5 C690.0 413.3 701.5 415.0 710.0 416.0 C718.5 417.0 719.3 417.3 731.0 417.7 C742.7 418.1 766.5 418.5 780.0 418.5 C793.5 418.5 802.0 418.2 812.0 417.7 C822.0 417.2 831.2 416.4 840.0 415.5 C848.8 414.6 857.5 413.6 865.0 412.0 C872.5 410.4 878.2 408.4 885.0 406.0 C891.8 403.6 900.5 399.9 906.0 397.6 C911.5 395.3 911.3 394.5 918.0 392.0 C924.7 389.5 939.0 385.1 946.0 382.8 C953.0 380.5 949.3 380.6 960.0 378.0 C970.7 375.4 996.7 370.5 1010.0 367.0 C1023.3 363.5 1028.3 361.0 1040.0 357.0 C1051.7 353.0 1065.3 348.7 1080.0 343.0 C1094.7 337.3 1114.7 328.5 1128.0 323.0 C1141.3 317.5 1148.0 315.5 1160.0 310.0 C1172.0 304.5 1190.3 295.0 1200.0 290.0 C1209.7 285.0 1213.3 282.8 1218.0 280.0 C1222.7 277.2 1226.3 274.2 1228.0 273.0" fill="none" stroke="#10131b" stroke-width="2.2" clip-path="url(#c50)"/>
<circle cx="398.2" cy="363" r="6" fill="rgba(255,152,0,0.32)" stroke="#e69b0a" stroke-width="1.1"/>
<text x="1155" y="85.2" font-size="11.5" font-weight="bold" fill="#fff" textLength="53.5" lengthAdjust="spacingAndGlyphs">2023 High</text>
<path d="M1231.4 537.4 A7.6 7.6 0 1 0 1236.4 543.0" fill="none" stroke="#ab47bc" stroke-width="1.6"/>
<polygon points="1231.0,540.1 1225.7,544.6 1228.9,544.8 1226.3,548.7 1232.3,544.2 1229.5,543.9" fill="#ab47bc"/>
<circle cx="1234.7" cy="538.6" r="2.4" fill="#ff3545"/>
</g>
<g clip-path="url(#cr)">
<rect x="8" y="581.2" width="1425" height="47.6" fill="rgba(126,87,194,0.06)"/>
<line x1="8.1" y1="581.45" x2="1433" y2="581.45" stroke="#a4a6ae" stroke-width="1" stroke-dasharray="4.3 4.63"/>
<line x1="8.1" y1="628.50" x2="1433" y2="628.50" stroke="#a4a6ae" stroke-width="1" stroke-dasharray="4.3 4.63"/>
<polyline points="9.0,616.8 21.0,619.5 33.0,616.0 45.0,619.5 58.8,624.0 72.0,609.0 82.5,605.8 96.0,604.5 109.0,610.0 121.0,614.0 134.0,618.8 147.5,623.0 160.0,624.0 172.5,626.8 185.0,630.0 197.5,618.0 210.0,618.8 217.5,622.5 235.0,628.8 247.5,617.5 260.0,621.0 272.5,615.0 285.0,616.0 297.5,611.0 310.0,605.8 322.5,603.0 335.0,600.0 347.5,602.5 360.0,608.8 372.0,614.0 385.8,608.8 397.0,614.0 409.5,618.0 423.8,621.0 435.8,620.5 448.8,623.0 461.0,615.0 473.8,612.0 486.0,618.0 499.0,607.5 511.5,609.0 524.0,608.0 536.5,605.8 549.0,610.0 562.0,613.0 574.5,615.0 587.0,615.5 599.8,614.5 612.0,607.5 624.8,606.0 637.8,599.5 650.0,595.5 662.8,599.5 675.0,598.8 688.0,604.0 700.0,600.0 713.8,605.8 725.8,598.0 744.0,593.0 750.0,591.0 763.0,593.0 775.0,592.5 788.5,594.5 801.0,591.8 814.0,592.0 826.0,590.8 838.5,585.5" fill="none" stroke="#363a45" stroke-width="1.1" stroke-linejoin="round"/>
<polyline points="964.2,575.5 976.5,585.0 990.0,589.5 1002.8,596.5 1015.2,593.2 1027.8,587.5 1040.2,590.0 1052.8,592.5 1065.2,600.5 1077.8,600.0 1091.5,596.8 1104.0,597.0 1116.5,605.5 1127.2,610.0 1141.0,597.0 1153.5,592.5 1166.0,589.2 1178.5,587.5 1191.0,587.0 1203.5,585.8 1216.0,581.2 1226.0,580.8" fill="none" stroke="#363a45" stroke-width="1.1" stroke-linejoin="round"/>
<polyline points="838.5,585.5 851.0,580.5 863.5,578.2 876.5,578.2 889.0,573.8 901.5,579.2 914.2,576.2 926.8,579.5 939.2,575.0 951.8,578.0 964.2,575.5" fill="none" stroke="#e0434f" stroke-width="1.1" stroke-linejoin="round"/>
<line x1="172" y1="626.75" x2="185" y2="630.5" stroke="#e0434f" stroke-width="1.1"/>
<rect x="43.0" y="631.0" width="31.5" height="16.0" rx="2" fill="#2196f3"/>
<polygon points="53.8,631.3 58.8,626.0 63.8,631.3" fill="#2196f3"/>
<text x="58.8" y="640.9" font-size="7.6" font-weight="bold" fill="#fff" text-anchor="middle" textLength="21.0" lengthAdjust="spacingAndGlyphs">PIVOT</text>
<rect x="169.0" y="637.0" width="31.8" height="16.0" rx="2" fill="#2196f3"/>
<polygon points="180.0,637.3 185.0,632.0 190.0,637.3" fill="#2196f3"/>
<text x="184.9" y="646.9" font-size="7.6" font-weight="bold" fill="#fff" text-anchor="middle" textLength="21.2" lengthAdjust="spacingAndGlyphs">PIVOT</text>
<rect x="221.0" y="635.5" width="28.0" height="13.0" rx="2" fill="#4caf50"/>
<polygon points="230.0,635.8 235.0,630.5 240.0,635.8" fill="#4caf50"/>
<text x="235.0" y="643.9" font-size="7.6" font-weight="bold" fill="#fff" text-anchor="middle" textLength="17.5" lengthAdjust="spacingAndGlyphs">BULL</text>
<rect x="409.0" y="627.5" width="28.5" height="15.0" rx="2" fill="#4caf50"/>
<polygon points="418.8,627.8 423.8,623.0 428.8,627.8" fill="#4caf50"/>
<text x="423.2" y="636.9" font-size="7.6" font-weight="bold" fill="#fff" text-anchor="middle" textLength="18.0" lengthAdjust="spacingAndGlyphs">BULL</text>
<rect x="434.5" y="629.0" width="28.2" height="15.5" rx="2" fill="#4caf50"/>
<polygon points="443.8,629.3 448.8,624.5 453.8,629.3" fill="#4caf50"/>
<text x="448.6" y="638.6" font-size="7.6" font-weight="bold" fill="#fff" text-anchor="middle" textLength="17.8" lengthAdjust="spacingAndGlyphs">BULL</text>
<rect x="873.2" y="554.0" width="30.8" height="13.5" rx="2" fill="#2196f3"/>
<polygon points="884.0,567.2 889.0,573.0 894.0,567.2" fill="#2196f3"/>
<text x="888.6" y="564.1" font-size="7.6" font-weight="bold" fill="#fff" text-anchor="middle" textLength="20.2" lengthAdjust="spacingAndGlyphs">PIVOT</text>
<rect x="900.2" y="554.0" width="28.2" height="17.0" rx="2" fill="#ff5252"/>
<polygon points="909.2,570.7 914.2,575.8 919.2,570.7" fill="#ff5252"/>
<text x="914.4" y="566.3" font-size="7.6" font-weight="bold" fill="#fff" text-anchor="middle" textLength="17.8" lengthAdjust="spacingAndGlyphs">BEAR</text>
<rect x="928.0" y="554.0" width="25.5" height="15.5" rx="2" fill="#ff5252"/>
<polygon points="934.2,569.2 939.2,574.5 944.2,569.2" fill="#ff5252"/>
<text x="940.8" y="564.8" font-size="7.6" font-weight="bold" fill="#fff" text-anchor="middle" textLength="15.0" lengthAdjust="spacingAndGlyphs">BEAR</text>
<rect x="953.0" y="554.0" width="25.5" height="16.0" rx="2" fill="#ff5252"/>
<polygon points="959.2,569.7 964.2,574.5 969.2,569.7" fill="#ff5252"/>
<text x="965.8" y="565.6" font-size="7.6" font-weight="bold" fill="#fff" text-anchor="middle" textLength="15.0" lengthAdjust="spacingAndGlyphs">BEAR</text>
</g>
<text x="14.6" y="570.6" font-size="9.8" fill="#b8bbc4" textLength="122.3" lengthAdjust="spacingAndGlyphs">RSI Div - Lib (14, 70, 30, 90)</text>
<text x="143.2" y="570.6" font-size="9.8" fill="#363a45" textLength="17.7" lengthAdjust="spacingAndGlyphs">69.7</text>
<text x="8.2" y="15.7" font-size="9.9" fill="#c9ccd4" textLength="296.8" lengthAdjust="spacingAndGlyphs">Zain_Vawda published on TradingView.com, Dec 20, 2023 20:31 UTC</text>
<text x="14.4" y="37.2" font-size="9.8" fill="#b8bbc4" textLength="86.6" lengthAdjust="spacingAndGlyphs">SMA 20/50/100/200</text>
<text x="107.8" y="37.2" font-size="9.8" font-weight="bold" fill="#fff" textLength="33" lengthAdjust="spacingAndGlyphs">15329.1</text>
<text x="148" y="37.2" font-size="9.8" fill="#0e1118" textLength="33.6" lengthAdjust="spacingAndGlyphs">14245.7</text>
<text x="188" y="37.2" font-size="9.8" fill="#e8394a" textLength="33.2" lengthAdjust="spacingAndGlyphs">13377.7</text>
<text x="228" y="37.2" font-size="9.8" fill="#f5e235" textLength="33.6" lengthAdjust="spacingAndGlyphs">13048.8</text>
<text x="1440.0" y="52.15" font-size="10.8" fill="#b8bbc4" textLength="33.8" lengthAdjust="spacingAndGlyphs">17600.0</text>
<text x="1440.0" y="78.92" font-size="10.8" fill="#b8bbc4" textLength="33.8" lengthAdjust="spacingAndGlyphs">17200.0</text>
<text x="1440.0" y="105.69" font-size="10.8" fill="#b8bbc4" textLength="33.8" lengthAdjust="spacingAndGlyphs">16800.0</text>
<text x="1440.0" y="132.46" font-size="10.8" fill="#b8bbc4" textLength="33.8" lengthAdjust="spacingAndGlyphs">16400.0</text>
<text x="1440.0" y="186.00" font-size="10.8" fill="#b8bbc4" textLength="33.8" lengthAdjust="spacingAndGlyphs">15600.0</text>
<text x="1440.0" y="239.54" font-size="10.8" fill="#b8bbc4" textLength="33.8" lengthAdjust="spacingAndGlyphs">14800.0</text>
<text x="1440.0" y="266.31" font-size="10.8" fill="#b8bbc4" textLength="33.8" lengthAdjust="spacingAndGlyphs">14400.0</text>
<text x="1440.0" y="319.85" font-size="10.8" fill="#b8bbc4" textLength="33.8" lengthAdjust="spacingAndGlyphs">13600.0</text>
<text x="1440.0" y="346.62" font-size="10.8" fill="#b8bbc4" textLength="33.8" lengthAdjust="spacingAndGlyphs">13200.0</text>
<text x="1440.0" y="400.16" font-size="10.8" fill="#b8bbc4" textLength="33.8" lengthAdjust="spacingAndGlyphs">12400.0</text>
<text x="1440.0" y="426.93" font-size="10.8" fill="#b8bbc4" textLength="33.8" lengthAdjust="spacingAndGlyphs">12000.0</text>
<text x="1440.0" y="453.70" font-size="10.8" fill="#b8bbc4" textLength="33.8" lengthAdjust="spacingAndGlyphs">11600.0</text>
<text x="1440.0" y="480.47" font-size="10.8" fill="#b8bbc4" textLength="33.8" lengthAdjust="spacingAndGlyphs">11200.0</text>
<text x="1440.0" y="507.24" font-size="10.8" fill="#b8bbc4" textLength="33.8" lengthAdjust="spacingAndGlyphs">10800.0</text>
<text x="1440.0" y="534.01" font-size="10.8" fill="#b8bbc4" textLength="33.8" lengthAdjust="spacingAndGlyphs">10400.0</text>
<text x="1440.0" y="578.35" font-size="10.8" fill="#b8bbc4" textLength="19.4" lengthAdjust="spacingAndGlyphs">75.0</text>
<text x="1440.0" y="608.35" font-size="10.8" fill="#b8bbc4" textLength="19.4" lengthAdjust="spacingAndGlyphs">50.0</text>
<text x="1440.0" y="638.45" font-size="10.8" fill="#b8bbc4" textLength="19.4" lengthAdjust="spacingAndGlyphs">25.0</text>
<rect x="1436.3" y="25.6" width="42.2" height="21" rx="3" fill="#131722" stroke="#363a45" stroke-width="1"/>
<text x="1443.4" y="39.8" font-size="10" fill="#d1d4dc" textLength="17.4" lengthAdjust="spacingAndGlyphs">USD</text>
<path d="M1433 106H1477Q1479 106 1479 108V129.7Q1479 131.7 1477 131.7H1433Z" fill="#f23645"/>
<text x="1440.0" y="116.90" font-size="10.3" fill="#fff" font-weight="bold" textLength="34.0" lengthAdjust="spacingAndGlyphs">16637.2</text>
<text x="1440" y="128.1" font-size="9.8" fill="#ffdfe2" textLength="23.8" lengthAdjust="spacingAndGlyphs">2d 2h</text>
<path d="M1400 106H1432.3V119.9H1400Q1398 119.9 1398 117.9V108Q1398 106 1400 106Z" fill="#f23645"/>
<text x="1402" y="116.9" font-size="10" font-weight="bold" fill="#fff" textLength="26.3" lengthAdjust="spacingAndGlyphs">US100</text>
<path d="M1433.0 151.9H1477.0Q1479.0 151.9 1479.0 153.9V163.9Q1479.0 165.9 1477.0 165.9H1433.0Z" fill="#2962ff"/>
<text x="1440.0" y="162.50" font-size="10.3" fill="#fff" font-weight="bold" textLength="34.0" lengthAdjust="spacingAndGlyphs">15951.8</text>
<path d="M1433.0 208.0H1477.0Q1479.0 208.0 1479.0 210.0V219.6Q1479.0 221.6 1477.0 221.6H1433.0Z" fill="#2962ff"/>
<text x="1440.0" y="218.40" font-size="10.3" fill="#fff" font-weight="bold" textLength="34.0" lengthAdjust="spacingAndGlyphs">15303.3</text>
<path d="M1433.0 193.6H1477.0Q1479.0 193.6 1479.0 195.6V205.2Q1479.0 207.2 1477.0 207.2H1433.0Z" fill="#ffffff"/>
<text x="1440.0" y="204.00" font-size="10.3" fill="#131722" textLength="34.0" lengthAdjust="spacingAndGlyphs">15329.1</text>
<path d="M1433.0 233.0H1477.0Q1479.0 233.0 1479.0 235.0V244.4Q1479.0 246.4 1477.0 246.4H1433.0Z" fill="#2962ff"/>
<text x="1440.0" y="243.30" font-size="10.3" fill="#fff" font-weight="bold" textLength="34.0" lengthAdjust="spacingAndGlyphs">14744.6</text>
<path d="M1433.0 247.0H1477.0Q1479.0 247.0 1479.0 249.0V258.4Q1479.0 260.4 1477.0 260.4H1433.0Z" fill="#2962ff"/>
<text x="1440.0" y="257.30" font-size="10.3" fill="#fff" font-weight="bold" textLength="34.0" lengthAdjust="spacingAndGlyphs">14540.3</text>
<path d="M1433.0 267.4H1477.0Q1479.0 267.4 1479.0 269.4V278.0Q1479.0 280.0 1477.0 280.0H1433.0Z" fill="#12151e"/>
<text x="1440.0" y="277.30" font-size="10.3" fill="#fff" font-weight="bold" textLength="34.0" lengthAdjust="spacingAndGlyphs">14245.7</text>
<path d="M1433.0 280.0H1477.0Q1479.0 280.0 1479.0 282.0V291.4Q1479.0 293.4 1477.0 293.4H1433.0Z" fill="#2962ff"/>
<text x="1440.0" y="290.30" font-size="10.3" fill="#fff" font-weight="bold" textLength="34.0" lengthAdjust="spacingAndGlyphs">14228.1</text>
<path d="M1433.0 325.0H1477.0Q1479.0 325.0 1479.0 327.0V336.4Q1479.0 338.4 1477.0 338.4H1433.0Z" fill="#f23645"/>
<text x="1440.0" y="335.30" font-size="10.3" fill="#fff" font-weight="bold" textLength="34.0" lengthAdjust="spacingAndGlyphs">13377.7</text>
<path d="M1433.0 346.6H1477.0Q1479.0 346.6 1479.0 348.6V358.0Q1479.0 360.0 1477.0 360.0H1433.0Z" fill="#ffeb3b"/>
<text x="1440.0" y="356.90" font-size="10.3" fill="#131722" textLength="34.0" lengthAdjust="spacingAndGlyphs">13048.8</text>
<path d="M1433.0 361.0H1477.0Q1479.0 361.0 1479.0 363.0V372.0Q1479.0 374.0 1477.0 374.0H1433.0Z" fill="#2a2e39"/>
<text x="1440.0" y="371.10" font-size="10.3" fill="#fff" font-weight="bold" textLength="34.0" lengthAdjust="spacingAndGlyphs">12840.8</text>
<path d="M1433.0 413.2H1477.0Q1479.0 413.2 1479.0 415.2V424.4Q1479.0 426.4 1477.0 426.4H1433.0Z" fill="#2a2e39"/>
<text x="1440.0" y="423.40" font-size="10.3" fill="#fff" font-weight="bold" textLength="34.0" lengthAdjust="spacingAndGlyphs">12063.7</text>
<path d="M1433.0 481.0H1477.0Q1479.0 481.0 1479.0 483.0V492.0Q1479.0 494.0 1477.0 494.0H1433.0Z" fill="#2a2e39"/>
<text x="1440.0" y="491.10" font-size="10.3" fill="#fff" font-weight="bold" textLength="34.0" lengthAdjust="spacingAndGlyphs">11046.0</text>
<path d="M1433.0 575.3H1461.2Q1463.2 575.3 1463.2 577.3V586.7Q1463.2 588.7 1461.2 588.7H1433.0Z" fill="#363a45"/>
<text x="1439.5" y="585.60" font-size="10.3" fill="#fff" font-weight="bold" textLength="19.6" lengthAdjust="spacingAndGlyphs">69.7</text>
<text x="58.5" y="662.6" font-size="10.3" fill="#adb0b9" text-anchor="middle" textLength="15.5" lengthAdjust="spacingAndGlyphs">Mar</text>
<text x="159.5" y="662.6" font-size="10.3" fill="#adb0b9" text-anchor="middle" textLength="17.0" lengthAdjust="spacingAndGlyphs">May</text>
<text x="273.0" y="662.6" font-size="10.3" fill="#adb0b9" text-anchor="middle" textLength="12.0" lengthAdjust="spacingAndGlyphs">Jul</text>
<text x="385.8" y="662.6" font-size="10.3" fill="#adb0b9" text-anchor="middle" textLength="16.0" lengthAdjust="spacingAndGlyphs">Sep</text>
<text x="499.0" y="662.6" font-size="10.3" fill="#adb0b9" text-anchor="middle" textLength="17.0" lengthAdjust="spacingAndGlyphs">Nov</text>
<text x="599.8" y="662.6" font-size="10.3" fill="#e0e3eb" text-anchor="middle" textLength="21.5" lengthAdjust="spacingAndGlyphs">2023</text>
<text x="712.8" y="662.6" font-size="10.3" fill="#adb0b9" text-anchor="middle" textLength="15.5" lengthAdjust="spacingAndGlyphs">Mar</text>
<text x="813.0" y="662.6" font-size="10.3" fill="#adb0b9" text-anchor="middle" textLength="17.0" lengthAdjust="spacingAndGlyphs">May</text>
<text x="926.8" y="662.6" font-size="10.3" fill="#adb0b9" text-anchor="middle" textLength="12.0" lengthAdjust="spacingAndGlyphs">Jul</text>
<text x="1039.8" y="662.6" font-size="10.3" fill="#adb0b9" text-anchor="middle" textLength="16.0" lengthAdjust="spacingAndGlyphs">Sep</text>
<text x="1152.8" y="662.6" font-size="10.3" fill="#adb0b9" text-anchor="middle" textLength="17.0" lengthAdjust="spacingAndGlyphs">Nov</text>
<text x="1253.5" y="662.6" font-size="10.3" fill="#e0e3eb" text-anchor="middle" textLength="21.5" lengthAdjust="spacingAndGlyphs">2024</text>
<text x="1366.8" y="662.6" font-size="10.3" fill="#adb0b9" text-anchor="middle" textLength="15.5" lengthAdjust="spacingAndGlyphs">Mar</text>
<path d="M8.05 680h6.35v8.1h-3.4v-5.0h-2.95z" fill="#d6d8e0"/>
<circle cx="17.3" cy="681.9" r="1.0" fill="#d6d8e0"/>
<polygon points="19.6,680 23.8,680 20.7,688.1 16.9,688.1" fill="#d6d8e0"/>
<text x="26.8" y="688.1" font-size="9.7" fill="#d6d8e0" textLength="57" lengthAdjust="spacingAndGlyphs">TradingView</text>
<g fill="#07080d" opacity="0.7" transform="translate(1.4,1.3)">
<path fill-rule="evenodd" d="M1256.95 607.04 L1265.46 607.04 L1264.55 613.91 L1267.02 621.69 L1255.11 621.69ZM1251.91 623.98 L1260.61 623.98 L1259.69 630.40 L1262.90 634.52 L1301.19 634.52 L1299.54 641.57 L1262.44 641.57 L1253.74 657.88 L1242.29 657.88 L1251.18 641.57ZM1276.18 606.58 L1287.63 606.58 L1286.07 609.14 L1307.33 609.14 L1305.77 615.74 L1267.48 615.74ZM1267.48 618.95 L1304.30 618.95 L1300.91 634.52 L1264.00 634.52ZM1275.54 628.56 L1279.20 634.52 L1273.89 634.52ZM1278.47 625.54 L1293.31 625.54 L1291.30 634.52 L1283.78 634.52ZM1270.04 641.57 L1299.54 641.57 L1296.06 656.04 L1291.30 660.62 L1264.00 660.62ZM1271.60 644.87 L1275.27 652.84 L1269.13 652.84ZM1276.18 643.40 L1288.55 643.40 L1286.26 652.84 L1280.30 652.84Z"/>
<path d="M1316.85 607.00 L1365.49 607.00 L1364.03 614.40 L1315.39 614.40ZM1314.90 614.40 L1323.85 614.40 L1319.28 635.51 L1310.23 635.51ZM1311.50 628.70 L1361.11 628.70 L1359.65 635.51 L1310.04 635.51ZM1356.25 614.40 L1364.03 614.40 L1361.11 628.70 L1353.33 628.70ZM1350.89 635.51 L1359.84 635.51 L1354.79 658.37 L1351.87 661.28 L1329.49 661.28 L1330.95 654.47 L1346.52 654.47ZM1306.15 643.29 L1347.49 643.29 L1346.03 650.58 L1304.69 650.58Z"/>
<path fill-rule="evenodd" d="M1372.02 606.81 L1400.72 606.81 L1392.94 642.80 L1364.24 642.80ZM1380.49 614.59 L1391.19 614.59 L1385.93 638.91 L1375.23 638.91Z"/>
<path d="M1370.56 642.80 L1379.32 642.80 L1364.73 659.53 L1354.03 659.53ZM1378.83 642.80 L1387.10 642.80 L1388.56 659.53 L1377.86 659.53ZM1399.75 612.65 L1428.93 612.65 L1427.18 620.43 L1398.00 620.43ZM1418.72 606.81 L1428.15 606.81 L1417.26 654.47 L1414.34 659.53 L1400.72 659.53 L1402.18 652.53 L1408.50 652.53ZM1410.93 620.43 L1418.23 620.43 L1399.26 659.53 L1389.05 659.53Z"/>
<path d="M1443.04 607.30 L1452.76 607.30 L1440.12 623.83 L1430.39 623.83ZM1430.39 620.91 L1454.22 620.91 L1452.76 628.21 L1431.85 628.21ZM1444.01 624.32 L1454.03 624.32 L1437.68 645.72 L1426.50 645.72ZM1426.50 638.91 L1448.39 638.91 L1446.93 646.50 L1425.04 646.50ZM1424.26 652.53 L1444.49 652.53 L1443.04 659.53 L1422.80 659.53ZM1460.06 606.81 L1488.27 606.81 L1486.32 614.59 L1458.31 614.59ZM1477.08 614.59 L1486.81 614.59 L1465.89 634.05 L1455.19 634.05ZM1467.84 622.37 L1474.65 618.48 L1484.38 629.18 L1481.46 634.05 L1475.62 634.05ZM1453.25 636.19 L1480.97 636.19 L1479.51 643.29 L1451.79 643.29ZM1462.49 643.29 L1471.73 643.29 L1469.59 652.53 L1460.35 652.53ZM1446.44 652.53 L1476.11 652.53 L1474.65 659.53 L1444.98 659.53Z"/>
</g>
<g fill="#f2f5ff" opacity="0.56" transform="translate(0,0)">
<path fill-rule="evenodd" d="M1256.95 607.04 L1265.46 607.04 L1264.55 613.91 L1267.02 621.69 L1255.11 621.69ZM1251.91 623.98 L1260.61 623.98 L1259.69 630.40 L1262.90 634.52 L1301.19 634.52 L1299.54 641.57 L1262.44 641.57 L1253.74 657.88 L1242.29 657.88 L1251.18 641.57ZM1276.18 606.58 L1287.63 606.58 L1286.07 609.14 L1307.33 609.14 L1305.77 615.74 L1267.48 615.74ZM1267.48 618.95 L1304.30 618.95 L1300.91 634.52 L1264.00 634.52ZM1275.54 628.56 L1279.20 634.52 L1273.89 634.52ZM1278.47 625.54 L1293.31 625.54 L1291.30 634.52 L1283.78 634.52ZM1270.04 641.57 L1299.54 641.57 L1296.06 656.04 L1291.30 660.62 L1264.00 660.62ZM1271.60 644.87 L1275.27 652.84 L1269.13 652.84ZM1276.18 643.40 L1288.55 643.40 L1286.26 652.84 L1280.30 652.84Z"/>
<path d="M1316.85 607.00 L1365.49 607.00 L1364.03 614.40 L1315.39 614.40ZM1314.90 614.40 L1323.85 614.40 L1319.28 635.51 L1310.23 635.51ZM1311.50 628.70 L1361.11 628.70 L1359.65 635.51 L1310.04 635.51ZM1356.25 614.40 L1364.03 614.40 L1361.11 628.70 L1353.33 628.70ZM1350.89 635.51 L1359.84 635.51 L1354.79 658.37 L1351.87 661.28 L1329.49 661.28 L1330.95 654.47 L1346.52 654.47ZM1306.15 643.29 L1347.49 643.29 L1346.03 650.58 L1304.69 650.58Z"/>
<path fill-rule="evenodd" d="M1372.02 606.81 L1400.72 606.81 L1392.94 642.80 L1364.24 642.80ZM1380.49 614.59 L1391.19 614.59 L1385.93 638.91 L1375.23 638.91Z"/>
<path d="M1370.56 642.80 L1379.32 642.80 L1364.73 659.53 L1354.03 659.53ZM1378.83 642.80 L1387.10 642.80 L1388.56 659.53 L1377.86 659.53ZM1399.75 612.65 L1428.93 612.65 L1427.18 620.43 L1398.00 620.43ZM1418.72 606.81 L1428.15 606.81 L1417.26 654.47 L1414.34 659.53 L1400.72 659.53 L1402.18 652.53 L1408.50 652.53ZM1410.93 620.43 L1418.23 620.43 L1399.26 659.53 L1389.05 659.53Z"/>
<path d="M1443.04 607.30 L1452.76 607.30 L1440.12 623.83 L1430.39 623.83ZM1430.39 620.91 L1454.22 620.91 L1452.76 628.21 L1431.85 628.21ZM1444.01 624.32 L1454.03 624.32 L1437.68 645.72 L1426.50 645.72ZM1426.50 638.91 L1448.39 638.91 L1446.93 646.50 L1425.04 646.50ZM1424.26 652.53 L1444.49 652.53 L1443.04 659.53 L1422.80 659.53ZM1460.06 606.81 L1488.27 606.81 L1486.32 614.59 L1458.31 614.59ZM1477.08 614.59 L1486.81 614.59 L1465.89 634.05 L1455.19 634.05ZM1467.84 622.37 L1474.65 618.48 L1484.38 629.18 L1481.46 634.05 L1475.62 634.05ZM1453.25 636.19 L1480.97 636.19 L1479.51 643.29 L1451.79 643.29ZM1462.49 643.29 L1471.73 643.29 L1469.59 652.53 L1460.35 652.53ZM1446.44 652.53 L1476.11 652.53 L1474.65 659.53 L1444.98 659.53Z"/>
</g>
<text transform="scale(1.22,1)" x="1030.57 1052.13 1075.08 1095.25 1111.39 1158.93 1175.49 1195.57" y="694.0" font-size="29.5" font-weight="bold" font-style="italic" fill="#0e1a38" stroke="#0e1a38" stroke-width="1.5" stroke-linejoin="round">zzrt0.cn</text>
<polygon points="1396.6,672.4 1403.4,672.4 1398.9,694.7 1391.6,694.7 1394.7,679.2 1390.5,679.2 1391.4,675.2" fill="#0e1a38"/>
<text transform="scale(1.22,1)" x="1029.26 1050.82 1073.77 1093.93 1110.08 1157.62 1174.18 1194.26" y="692.6" font-size="29.5" font-weight="bold" font-style="italic" fill="#1b5c9a" stroke="#1b5c9a" stroke-width="1.5" stroke-linejoin="round">zzrt0.cn</text>
<polygon points="1395.0,671.0 1401.8,671.0 1397.3,693.3 1390.0,693.3 1393.1,677.8 1388.9,677.8 1389.8,673.8" fill="#1b5c9a"/>
</svg>
</body></html>
